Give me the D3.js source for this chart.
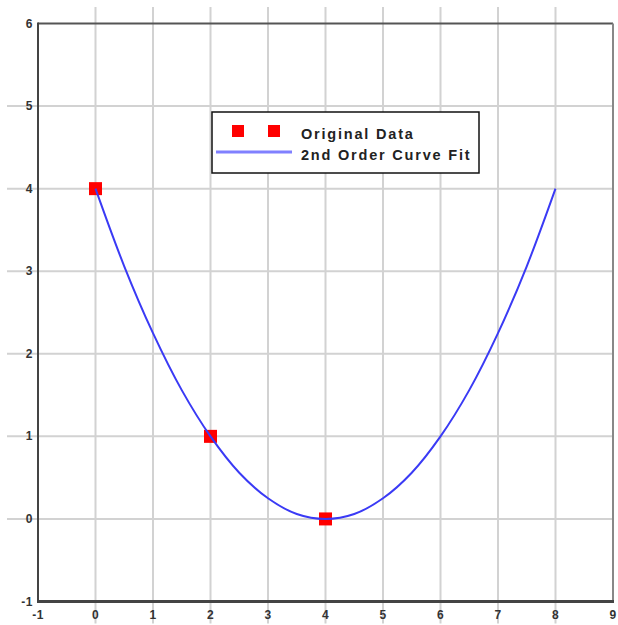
<!DOCTYPE html>
<html>
<head>
<meta charset="utf-8">
<script src="https://cdn.jsdelivr.net/npm/d3@7"></script>
<style>
  html, body { margin: 0; padding: 0; background: #fff; }
  svg { display: block; }
  .tick-label { font-family: "Liberation Sans", Arial, sans-serif; font-weight: bold; font-size: 12px; letter-spacing: 0.5px; fill: #333; }
  .legend-text { font-family: "Liberation Sans", Arial, sans-serif; font-weight: bold; font-size: 14.5px; letter-spacing: 1.8px; fill: #222; }
</style>
</head>
<body>
<div id="chart"></div>
<script>
// original data points
const dataX = [0, 2, 4];
const dataY = [4, 1, 0];

// fitted curve at half-unit steps
const fitX = [0, 0.5, 1, 1.5, 2, 2.5, 3, 3.5, 4, 4.5, 5, 5.5, 6, 6.5, 7, 7.5, 8];
const fitY = [4, 3.06, 2.25, 1.56, 1, 0.56, 0.25, 0.06, 0, 0.06, 0.25, 0.56, 1, 1.56, 2.25, 3.06, 4];

const xTicks = [-1, 0, 1, 2, 3, 4, 5, 6, 7, 8, 9];
const yTicks = [-1, 0, 1, 2, 3, 4, 5, 6];

const legendLabels = ['Original Data', '2nd Order Curve Fit'];

const W = 618, H = 625;
const pLeft = 38, pRight = 613, pTop = 23.5, pBottom = 601.5;

const svg = d3.select('#chart').append('svg')
  .attr('width', W).attr('height', H);

const x = d3.scaleLinear().domain([-1, 9]).range([pLeft, pRight]);
const y = d3.scaleLinear().domain([-1, 6]).range([pBottom, pTop]);

// grid lines (stick out past the frame like tick marks)
const grid = svg.append('g');
grid.selectAll('line.gx').data(xTicks.slice(1, -1)).join('line')
  .attr('x1', d => x(d)).attr('x2', d => x(d))
  .attr('y1', 7).attr('y2', pBottom + 22)
  .attr('stroke', '#d2d2d2').attr('stroke-width', 2);
grid.selectAll('line.gy').data(yTicks.slice(1, -1)).join('line')
  .attr('x1', 7).attr('x2', pRight)
  .attr('y1', d => y(d)).attr('y2', d => y(d))
  .attr('stroke', '#d2d2d2').attr('stroke-width', 2);

// frame
svg.append('line').attr('x1', pLeft).attr('x2', pRight).attr('y1', pTop).attr('y2', pTop)
  .attr('stroke', '#555').attr('stroke-width', 2);
svg.append('line').attr('x1', pRight).attr('x2', pRight).attr('y1', pTop).attr('y2', pBottom)
  .attr('stroke', '#888').attr('stroke-width', 2);
svg.append('line').attr('x1', pLeft).attr('x2', pLeft).attr('y1', pTop - 1).attr('y2', pBottom + 1)
  .attr('stroke', '#444').attr('stroke-width', 2);
svg.append('line').attr('x1', pLeft - 1).attr('x2', pRight + 1).attr('y1', pBottom).attr('y2', pBottom)
  .attr('stroke', '#444').attr('stroke-width', 3);

// tick labels
svg.selectAll('text.xl').data(xTicks).join('text')
  .attr('class', 'tick-label')
  .attr('x', d => x(d)).attr('y', pBottom + 17)
  .attr('text-anchor', 'middle')
  .text(d => d);
svg.selectAll('text.yl').data(yTicks).join('text')
  .attr('class', 'tick-label')
  .attr('x', pLeft - 5).attr('y', d => y(d) + 4)
  .attr('text-anchor', 'end')
  .text(d => d);

// data markers
const sq = 13;
svg.selectAll('rect.pt').data(dataX).join('rect')
  .attr('x', d => x(d) - sq / 2)
  .attr('y', (d, i) => y(dataY[i]) - sq / 2)
  .attr('width', sq).attr('height', sq)
  .attr('fill', '#ff0000');

// fitted curve on top
const line = d3.line()
  .x((d, i) => x(fitX[i]))
  .y((d, i) => y(fitY[i]))
  .curve(d3.curveCatmullRom);
svg.append('path')
  .datum(fitX)
  .attr('d', line)
  .attr('fill', 'none')
  .attr('stroke', '#3a3af5')
  .attr('stroke-width', 2);

// legend
const lg = svg.append('g').attr('transform', 'translate(212,112)');
lg.append('rect').attr('width', 267).attr('height', 61)
  .attr('fill', '#fff').attr('stroke', '#111').attr('stroke-width', 1.5);
[26, 62].forEach(cx => {
  lg.append('rect').attr('x', cx - 6).attr('y', 13).attr('width', 12).attr('height', 12)
    .attr('fill', '#ff0000');
});
lg.append('line').attr('x1', 4).attr('x2', 80).attr('y1', 40).attr('y2', 40)
  .attr('stroke', '#8080ff').attr('stroke-width', 3);
lg.selectAll('text').data(legendLabels).join('text')
  .attr('class', 'legend-text')
  .attr('x', 89).attr('y', (d, i) => 26.5 + i * 21)
  .text(d => d);
</script>
</body>
</html>
